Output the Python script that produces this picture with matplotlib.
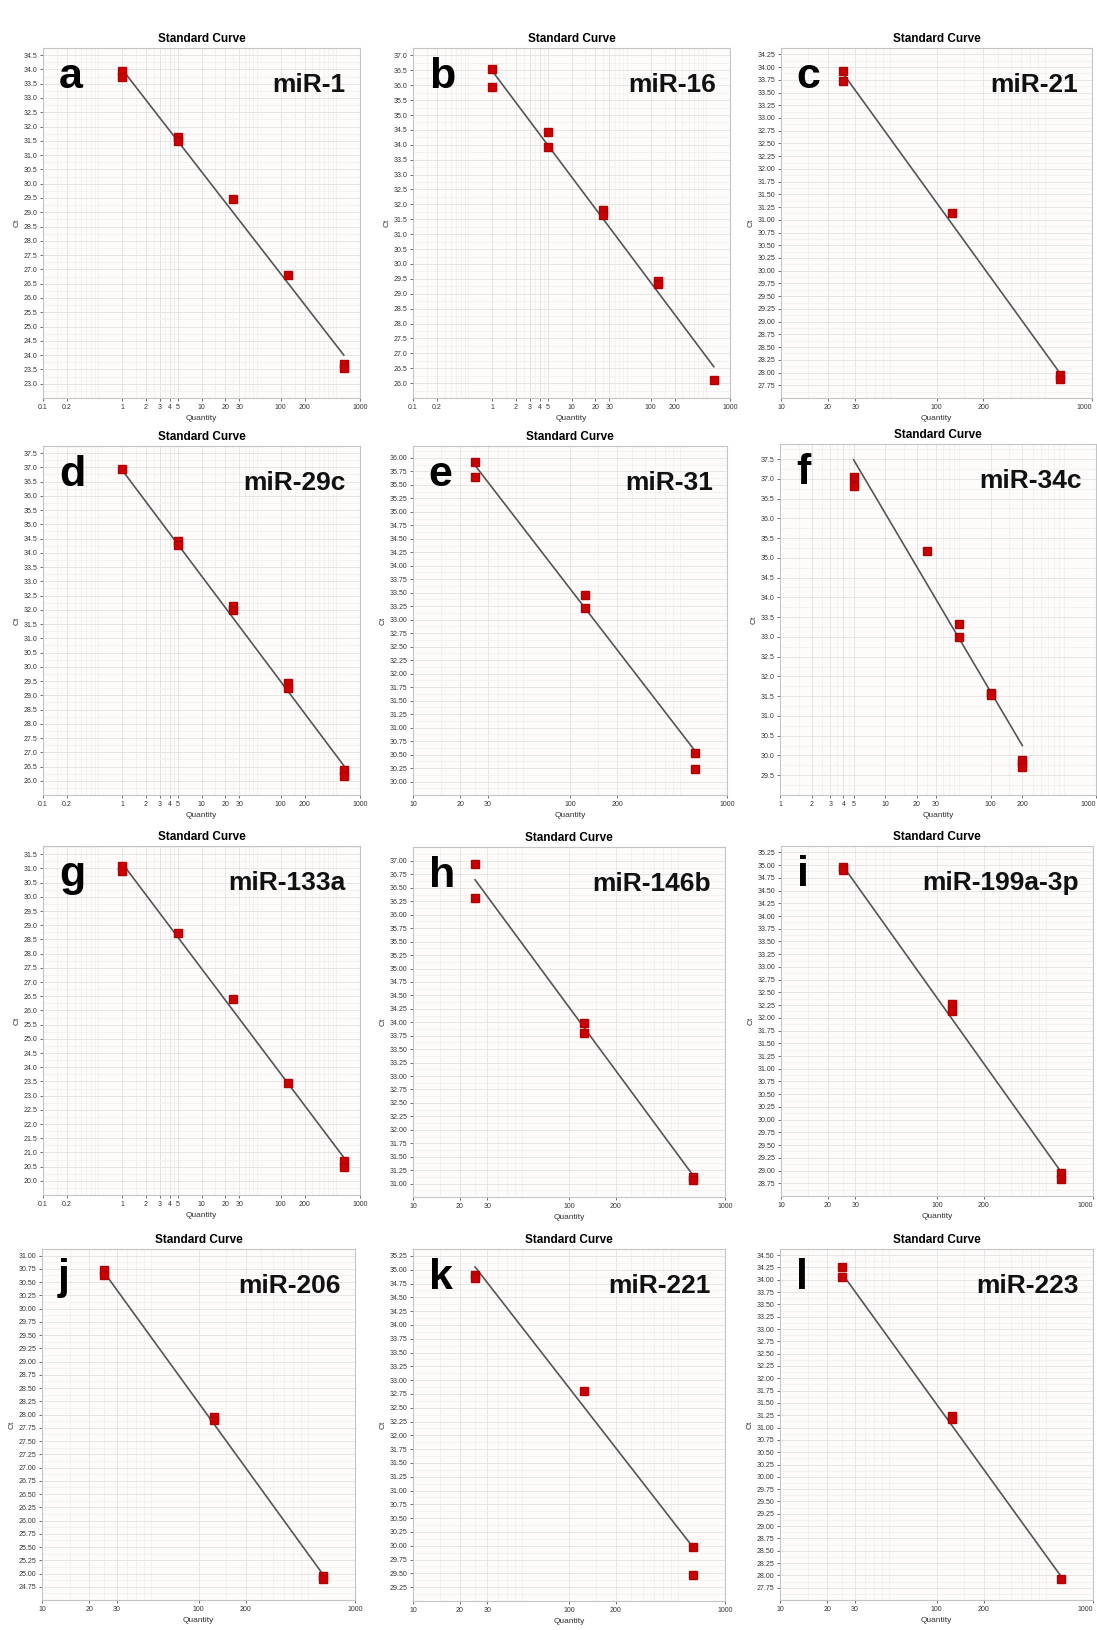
import matplotlib
matplotlib.use("Agg")
import matplotlib.pyplot as plt
from matplotlib.ticker import FixedLocator, NullFormatter, LogLocator
import numpy as np

plt.rcParams['font.family'] = ['Liberation Sans', 'DejaVu Sans']

# standard curve data
letters = ['a', 'b', 'c', 'd', 'e', 'f', 'g', 'h', 'i', 'j', 'k', 'l']
mirnas = ['miR-1', 'miR-16', 'miR-21', 'miR-29c', 'miR-31', 'miR-34c',
          'miR-133a', 'miR-146b', 'miR-199a-3p', 'miR-206', 'miR-221', 'miR-223']

a_qty = [1, 1, 5, 5, 25, 125, 625, 625]
a_ct = [33.95, 33.75, 31.65, 31.5, 29.45, 26.8, 23.7, 23.55]
b_qty = [1, 1, 5, 5, 25, 25, 125, 125, 625]
b_ct = [36.53, 35.94, 34.43, 33.93, 31.81, 31.65, 29.42, 29.33, 26.12]
c_qty = [25, 25, 125, 625, 625]
c_ct = [33.93, 33.73, 31.14, 27.95, 27.88]
d_qty = [1, 5, 5, 25, 25, 125, 125, 625, 625]
d_ct = [36.93, 34.42, 34.26, 32.12, 31.98, 29.42, 29.26, 26.36, 26.18]
e_qty = [25, 25, 125, 125, 625, 625]
e_ct = [35.93, 35.64, 33.45, 33.22, 30.52, 30.24]
f_qty = [5, 5, 25, 50, 50, 100, 100, 200, 200, 200]
f_ct = [37.05, 36.81, 35.18, 33.33, 32.99, 31.57, 31.52, 29.89, 29.8, 29.72]
g_qty = [1, 1, 5, 25, 125, 625, 625]
g_ct = [31.07, 30.9, 28.74, 26.39, 23.43, 20.7, 20.48]
h_qty = [25, 25, 125, 125, 625, 625]
h_ct = [36.94, 36.31, 33.98, 33.8, 31.12, 31.07]
i_qty = [25, 25, 125, 125, 625, 625]
i_ct = [34.96, 34.9, 32.27, 32.13, 28.96, 28.84]
j_qty = [25, 25, 125, 125, 625, 625]
j_ct = [30.72, 30.63, 27.95, 27.89, 24.95, 24.9]
k_qty = [25, 25, 125, 625, 625]
k_ct = [34.9, 34.85, 32.81, 29.97, 29.47]
l_qty = [25, 25, 125, 125, 625]
l_ct = [34.26, 34.06, 31.23, 31.18, 27.93]

qty = [a_qty, b_qty, c_qty, d_qty, e_qty, f_qty, g_qty, h_qty, i_qty, j_qty, k_qty, l_qty]
ct = [a_ct, b_ct, c_ct, d_ct, e_ct, f_ct, g_ct, h_ct, i_ct, j_ct, k_ct, l_ct]

# fitted line ends (quantity range, Ct at each end)
fit_qty = [(1, 625), (1, 625), (25, 625), (1, 625), (25, 625), (5, 200),
           (1, 625), (25, 625), (25, 625), (25, 625), (25, 625), (25, 625)]
fit_ct = [(34.0, 24.0), (36.48, 26.55), (33.88, 27.98), (36.9, 26.53),
          (35.85, 30.57), (37.48, 30.25), (31.18, 20.82), (36.65, 31.15),
          (34.98, 28.97), (30.68, 24.98), (35.05, 29.97), (34.12, 27.98)]

# y axis: range, first/last labelled tick, step
y_lim = [(22.93, 34.67), (25.6, 37.08), (27.61, 34.27), (25.66, 37.56),
         (29.97, 36.22), (29.35, 37.88), (19.97, 31.79), (30.8, 37.26),
         (28.56, 35.33), (24.63, 31.01), (29.21, 35.31), (27.6, 34.56)]
y_ticks = [(23.0, 34.5, 0.5), (26.0, 37.0, 0.5), (27.75, 34.25, 0.25),
           (26.0, 37.5, 0.5), (30.0, 36.0, 0.25), (29.5, 37.5, 0.5),
           (20.0, 31.5, 0.5), (31.0, 37.0, 0.25), (28.75, 35.25, 0.25),
           (24.75, 31.0, 0.25), (29.25, 35.25, 0.25), (27.75, 34.5, 0.25)]
x_lim = [(0.1, 1000), (0.1, 1000), (10, 1000), (0.1, 1000), (10, 1000), (1, 1000),
         (0.1, 1000), (10, 1000), (10, 1000), (10, 1000), (10, 1000), (10, 1000)]
x_ticks_all = [0.1, 0.2, 1, 2, 3, 4, 5, 10, 20, 30, 100, 200, 1000]

# axes boxes in pixels: left, top, right, bottom
boxes = [(43, 48, 360, 398), (413, 48, 730, 398), (781, 48, 1092, 398),
         (43, 446, 360, 795), (413, 446, 727, 795), (780, 444, 1096, 795),
         (43, 846, 360, 1195), (413, 847, 725, 1197), (781, 846, 1093, 1196),
         (42, 1249, 355, 1600), (413, 1249, 725, 1601), (780, 1249, 1093, 1600)]

W, H = 1097, 1630
fig = plt.figure(figsize=(W / 100, H / 100), dpi=100, facecolor='white')

for n in range(12):
    l, t, r, b = boxes[n]
    ax = fig.add_axes([l / W, 1 - b / H, (r - l) / W, (b - t) / H])
    ax.set_facecolor('#fefbfb')
    ax.set_xscale('log')
    ax.set_xlim(*x_lim[n])
    ax.set_ylim(*y_lim[n])

    xt = [v for v in x_ticks_all if x_lim[n][0] <= v <= x_lim[n][1]]
    ax.xaxis.set_major_locator(FixedLocator(xt))
    ax.set_xticklabels(['%g' % v for v in xt])
    if r > 1080:
        # keep the last label inside the figure
        ax.get_xticklabels()[-1].set_horizontalalignment('right')
    ax.xaxis.set_minor_locator(LogLocator(base=10, subs=np.arange(1, 10) * 0.5, numticks=50))
    ax.xaxis.set_minor_formatter(NullFormatter())

    y0, y1, st = y_ticks[n]
    yt = np.arange(y0, y1 + st / 2, st)
    ax.set_yticks(yt)
    fmt = '%.1f' if st == 0.5 else '%.2f'
    ax.set_yticklabels([fmt % v for v in yt])
    ax.set_yticks(np.arange(y0 - st, y1 + st, st / 2), minor=True)

    ax.grid(which='major', color='#e2e2e2', lw=0.6)
    ax.grid(which='minor', color='#f0eeee', lw=0.5)
    ax.set_axisbelow(True)
    for s in ax.spines.values():
        s.set_color('#c4c4c4')
        s.set_linewidth(0.8)
    ax.tick_params(which='both', labelsize=5, colors='#333333', length=2, width=0.5, pad=2)
    ax.tick_params(which='minor', length=0)

    ax.plot(fit_qty[n], fit_ct[n], color='#555555', lw=1.2, zorder=3)
    ax.plot(qty[n], ct[n], 's', color='#cc0000', mec='#b00000', ms=5.5, zorder=4)

    ax.set_title('Standard Curve', fontsize=8.5, fontweight='bold', pad=4)
    ax.set_xlabel('Quantity', fontsize=6, color='#333333', labelpad=3)
    ax.set_ylabel('Ct', fontsize=6, color='#333333', labelpad=2)

    ax.text(0.05, 0.885, letters[n], transform=ax.transAxes, fontsize=31,
            fontweight='bold', va='baseline', ha='left')
    ax.text(0.955, 0.875, mirnas[n], transform=ax.transAxes, fontsize=19,
            fontweight='bold', va='baseline', ha='right', color='#111111')

fig.savefig('out.png', dpi=100, facecolor='white')
